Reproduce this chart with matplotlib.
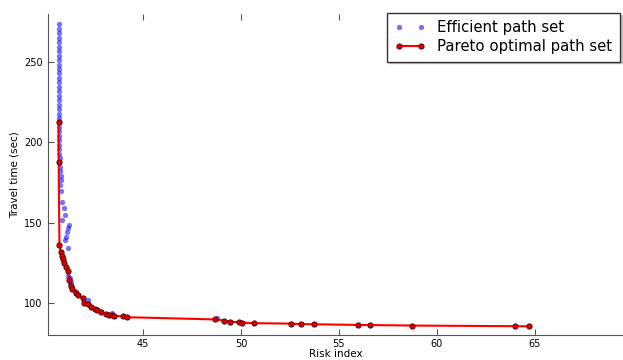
import matplotlib
matplotlib.use('Agg')
import matplotlib.pyplot as plt

# efficient path set (blue)
eff_risk = [40.72, 40.71, 40.73, 40.72, 40.71, 40.72, 40.73, 40.72, 40.71, 40.72,
            40.73, 40.72, 40.71, 40.72, 40.74, 40.72, 40.71, 40.72, 40.73, 40.72,
            40.71, 40.72, 40.73, 40.72, 40.71, 40.72, 40.73, 40.74, 40.72, 40.73,
            40.75, 40.74, 40.76, 40.78, 40.80, 40.82, 40.79, 40.84,
            40.86, 40.95, 41.04, 40.86, 41.24, 41.18, 41.13, 41.08, 41.04, 41.20,
            41.20, 41.28, 41.34, 41.30, 41.55, 42.22, 42.60, 43.41, 48.77]
eff_time = [273.5, 270.8, 268.0, 265.2, 262.4, 259.6, 256.9, 254.1, 251.3, 248.5,
            245.8, 243.0, 240.2, 237.4, 234.7, 231.9, 229.1, 226.3, 223.6, 220.8,
            218.0, 215.2, 212.5, 209.7, 206.9, 204.1, 201.4, 198.6, 195.8, 193.0,
            190.3, 187.5, 184.7, 181.9, 179.2, 176.4, 173.6, 169.8,
            163.0, 159.0, 154.8, 151.7, 148.5, 146.6, 144.3, 141.2, 139.0, 134.0,
            117.0, 115.5, 113.0, 111.5, 107.5, 101.6, 96.3, 93.5, 90.7]

# pareto optimal path set (red)
par_risk = [40.70, 40.70, 40.74, 40.82, 40.86, 40.92, 40.97, 41.07, 41.17, 41.24,
            41.32, 41.38, 41.60, 41.68, 41.95, 41.97, 42.22, 42.34, 42.56, 42.65,
            42.85, 43.12, 43.29, 43.41, 43.53, 43.97, 44.20, 48.70, 49.16, 49.45,
            49.90, 50.06, 50.65, 52.55, 53.06, 53.73, 56.00, 56.59, 58.74, 63.98,
            64.70]
par_time = [212.5, 187.5, 136.4, 131.8, 129.5, 127.3, 125.0, 122.4, 119.9, 114.1,
            110.3, 108.9, 106.3, 105.0, 102.8, 99.9, 99.1, 97.4, 95.9, 95.3,
            94.2, 93.2, 92.6, 92.2, 92.0, 91.7, 91.1, 89.7, 89.0, 88.2,
            88.0, 87.7, 87.4, 87.1, 86.8, 86.7, 86.3, 86.2, 85.9, 85.5,
            85.4]

fig = plt.figure(figsize=(6.23, 3.6), dpi=100)
ax = fig.add_axes([0.0775, 0.0694, 0.9225, 0.8916])

all_risk = eff_risk + par_risk
all_time = eff_time + par_time
ax.plot(all_risk, all_time, 'o', color='b', alpha=0.55, markersize=3.8,
        markeredgewidth=0, label='Efficient path set')
ax.plot(par_risk, par_time, '-o', color='r', lw=1.5, markersize=3.8,
        markerfacecolor='#dd0000', markeredgecolor='#550000', markeredgewidth=0.6,
        label='Pareto optimal path set')

ax.set_xlim(40.17, 69.5)
ax.set_ylim(80, 280)
ax.set_xticks([45, 50, 55, 60, 65])
ax.set_yticks([100, 150, 200, 250])
ax.set_xlabel('Risk index', fontsize=7.5, labelpad=0)
ax.set_ylabel('Travel time (sec)', fontsize=7.5, labelpad=3)

for side in ['top', 'right']:
    ax.spines[side].set_visible(False)
for side in ['left', 'bottom']:
    ax.spines[side].set_color('#555555')
ax.tick_params(direction='in', length=4, width=0.8, color='#555555',
               labelsize=7, top=True, right=False, pad=4)
ax.tick_params(axis='x', pad=3)

leg = ax.legend(loc='upper right', bbox_to_anchor=(620 / 623, 1 - 13 / 360),
                bbox_transform=fig.transFigure, borderaxespad=0, numpoints=2,
                fontsize=10.7, fancybox=False,
                shadow={'ox': 1.2, 'oy': -1.2, 'color': '#999999', 'alpha': 0.5},
                framealpha=1, handlelength=2.1, handletextpad=0.8,
                borderpad=0.5, labelspacing=0.25)
leg.get_frame().set_edgecolor('#333333')

fig.savefig('out.png', dpi=100)
